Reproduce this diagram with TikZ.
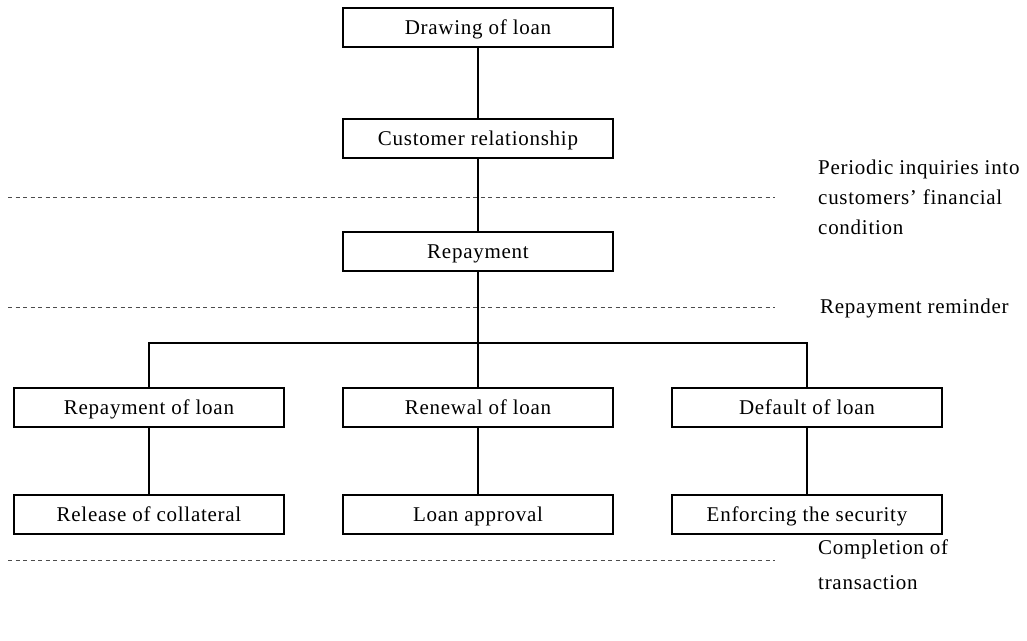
\documentclass[tikz,border=0pt]{standalone}
\usepackage{fontspec}
\setmainfont{Liberation Serif}[LetterSpace=3.5]
\begin{document}
\begin{tikzpicture}[x=1pt,y=-1pt,
  stage/.style={draw, line width=1.8pt, minimum width=270pt, minimum height=39pt,
    inner sep=0pt, text height=15pt, text depth=1.4pt, font=\fontsize{21}{30}\selectfont},
  link/.style={line width=1.8pt},
  phase/.style={draw=black!70, line width=0.9pt, dash pattern=on 4pt off 3.5pt},
  note/.style={anchor=west, align=left, inner sep=0pt, font=\fontsize{21}{30}\selectfont}]
\useasboundingbox (0,0) rectangle (1027,640);

% main stages
\node[stage] (draw)  at (478,27.5)  {Drawing of loan};
\node[stage] (cust)  at (478,138.5) {Customer relationship};
\node[stage] (rep)   at (478,251.5) {Repayment};
\node[stage] (rloan) at (149,407.5) {Repayment of loan};
\node[stage] (renew) at (478,407.5) {Renewal of loan};
\node[stage] (def)   at (807,407.5) {Default of loan};
\node[stage] (rel)   at (149,514.5) {Release of collateral};
\node[stage] (appr)  at (478,514.5) {Loan approval};
\node[stage] (enf)   at (807,514.5) {Enforcing the security};

% connectors
\coordinate (fork) at (478,343);
\draw[link] (draw) -- (cust);
\draw[link] (cust) -- (rep);
\draw[link] (rep) -- (renew);
\draw[link] (rloan.north) |- (fork) -| (def.north);
\draw[link] (rloan) -- (rel);
\draw[link] (renew) -- (appr);
\draw[link] (def) -- (enf);

% phase separators
\coordinate (p1a) at (8,197); \coordinate (p1b) at (775,197);
\coordinate (p2a) at (8,307); \coordinate (p2b) at (775,307);
\coordinate (p3a) at (8,560); \coordinate (p3b) at (775,560);
\draw[phase] (p1a) -- (p1b);
\draw[phase] (p2a) -- (p2b);
\draw[phase] (p3a) -- (p3b);

% phase notes
\node[note] (n1) at (818,197) {Periodic inquiries into\\customers' financial\\condition};
\node[note] (n2) at (820,308.5) {Repayment reminder};
\node[note, font=\fontsize{21}{35}\selectfont] (n3) at (818,564.5) {Completion of\\transaction};
\end{tikzpicture}
\end{document}
